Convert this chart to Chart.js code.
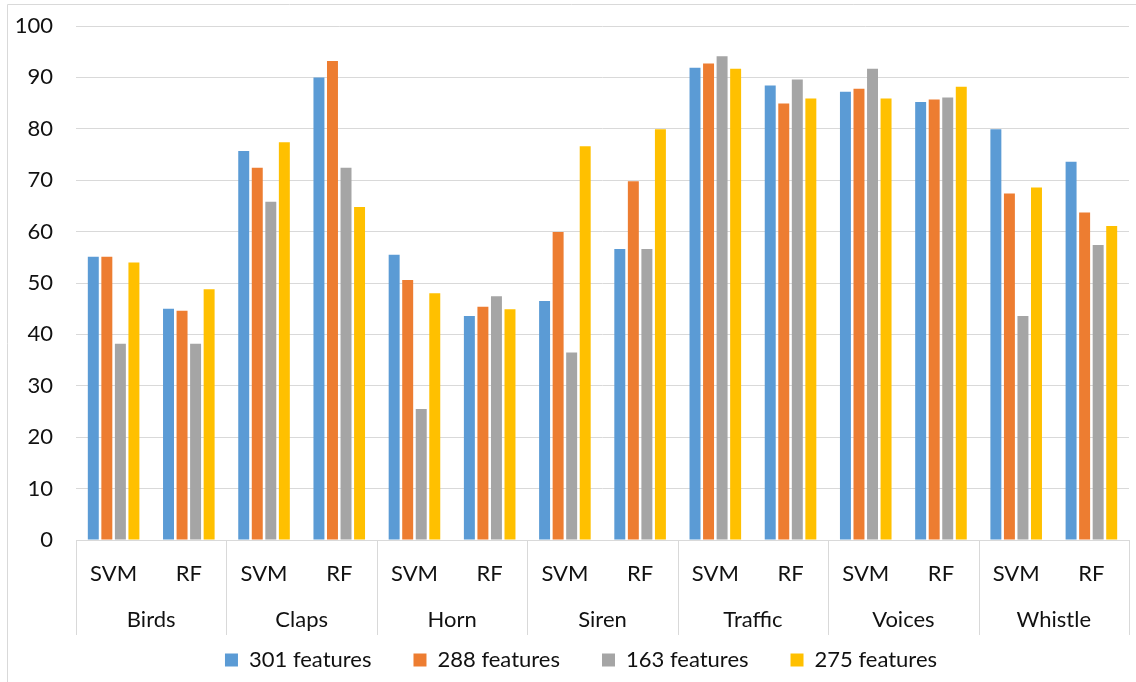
<!DOCTYPE html>
<html>
<head>
<meta charset="utf-8">
<title>Classification accuracy by sound class</title>
<script src="https://cdn.jsdelivr.net/npm/chart.js@4"></script>
<style>
  html, body { margin: 0; padding: 0; background: #fff; }
  canvas { display: block; }
</style>
</head>
<body>
<canvas id="chart" width="1136" height="682"></canvas>
<script>
// Sound classes (outer axis level) and classifiers (inner axis level)
const soundClasses = ['Birds', 'Claps', 'Horn', 'Siren', 'Traffic', 'Voices', 'Whistle'];
const classifiers = ['SVM', 'RF'];

// Accuracy (%) per class/classifier, in the order Birds-SVM, Birds-RF, Claps-SVM, ...
const features301 = [55.1, 45.0, 75.7, 90.0, 55.5, 43.6, 46.5, 56.6, 91.9, 88.4, 87.2, 85.2, 79.9, 73.6];
const features288 = [55.1, 44.6, 72.4, 93.2, 50.6, 45.4, 59.9, 69.8, 92.7, 84.9, 87.8, 85.7, 67.4, 63.7];
const features163 = [38.2, 38.2, 65.8, 72.4, 25.5, 47.4, 36.5, 56.6, 94.1, 89.6, 91.7, 86.1, 43.6, 57.4];
const features275 = [54.0, 48.8, 77.4, 64.8, 48.0, 44.9, 76.6, 79.9, 91.7, 85.9, 85.9, 88.2, 68.6, 61.1];

const seriesNames = ['301 features', '288 features', '163 features', '275 features'];
const yTicks = { min: 0, max: 100, step: 10 };

const palette = ['#5B9BD5', '#ED7D31', '#A5A5A5', '#FFC000'];
const gridColor = '#d9d9d9';
const textColor = '#111111';
const fontFamily = 'Lato, "Open Sans", "Liberation Sans", sans-serif';
const fontSize = 22;

// Inner-level labels: one SVM/RF pair per sound class
const innerLabels = soundClasses.flatMap(() => classifiers);

// Draws the outer category level (class names) and the group dividers below the plot
const groupedAxisPlugin = {
  id: 'groupedAxis',
  afterDraw(chart) {
    const { ctx, chartArea, scales } = chart;
    const x = scales.x;
    const per = classifiers.length;
    const half = (x.getPixelForValue(1) - x.getPixelForValue(0)) / 2;
    const top = chartArea.bottom;
    const bottom = chartArea.bottom + 95;
    ctx.save();
    ctx.strokeStyle = gridColor;
    ctx.lineWidth = 1;
    for (let g = 0; g <= soundClasses.length; g++) {
      let px;
      if (g === soundClasses.length) {
        px = x.getPixelForValue(g * per - 1) + half;
      } else {
        px = x.getPixelForValue(g * per) - half;
      }
      px = Math.round(px) + 0.5;
      ctx.beginPath();
      ctx.moveTo(px, top);
      ctx.lineTo(px, bottom);
      ctx.stroke();
    }
    ctx.fillStyle = textColor;
    ctx.font = fontSize + 'px ' + fontFamily;
    ctx.textAlign = 'center';
    ctx.textBaseline = 'middle';
    soundClasses.forEach((name, g) => {
      const a = x.getPixelForValue(g * per);
      const b = x.getPixelForValue(g * per + per - 1);
      ctx.fillText(name, (a + b) / 2, chartArea.bottom + 80);
    });
    ctx.restore();
  }
};

// Light frame around the whole figure
const framePlugin = {
  id: 'frame',
  beforeDraw(chart) {
    const { ctx, width, height } = chart;
    ctx.save();
    ctx.strokeStyle = gridColor;
    ctx.lineWidth = 1;
    ctx.beginPath();
    ctx.moveTo(7.5, height);
    ctx.lineTo(7.5, 4.5);
    ctx.lineTo(width, 4.5);
    ctx.stroke();
    ctx.restore();
  }
};

// Centre the legend row under the figure body rather than the full canvas
const legendOffsetPlugin = {
  id: 'legendOffset',
  afterLayout(chart) {
    if (chart.legend) {
      chart.legend.left = 33;
    }
  }
};

Chart.defaults.font.family = fontFamily;
Chart.defaults.font.size = fontSize;
Chart.defaults.color = textColor;

const datasets = [features301, features288, features163, features275].map((values, i) => ({
  label: seriesNames[i],
  data: values,
  backgroundColor: palette[i],
  borderWidth: 0,
  barPercentage: 0.81,
  categoryPercentage: 0.72
}));

new Chart(document.getElementById('chart'), {
  type: 'bar',
  data: { labels: innerLabels, datasets },
  options: {
    responsive: false,
    animation: false,
    layout: { padding: { left: 0, right: 7, top: 26, bottom: 1 } },
    plugins: {
      tooltip: { enabled: false },
      legend: {
        position: 'bottom',
        labels: {
          boxWidth: 13,
          boxHeight: 13,
          padding: 42,
          font: { size: fontSize },
          color: textColor
        }
      }
    },
    scales: {
      x: {
        grid: { display: false },
        border: { display: true, color: gridColor, width: 1 },
        ticks: { padding: 13, maxRotation: 0, autoSkip: false, font: { size: fontSize } },
        afterFit(scale) { scale.height = 67; }
      },
      y: {
        min: yTicks.min,
        max: yTicks.max,
        ticks: { stepSize: yTicks.step, padding: 0, font: { size: fontSize } },
        grid: { color: gridColor, drawTicks: true, tickLength: 23, tickColor: 'rgba(0,0,0,0)', lineWidth: 1 },
        border: { display: false },
        afterFit(scale) { scale.width = 76; }
      }
    }
  },
  plugins: [framePlugin, groupedAxisPlugin, legendOffsetPlugin]
});
</script>
</body>
</html>
